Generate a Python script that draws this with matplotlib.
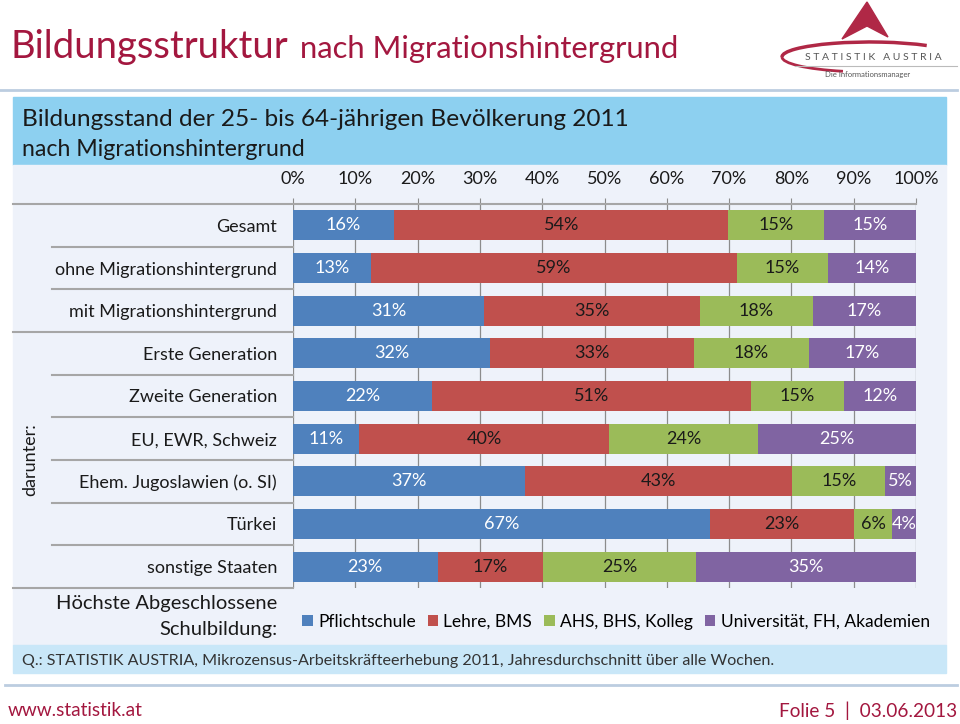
import numpy as np
import matplotlib
matplotlib.use('Agg')
import matplotlib.pyplot as plt
from matplotlib.patches import Rectangle, Polygon, Arc
from matplotlib.lines import Line2D
import matplotlib.transforms as mtransforms

plt.rcParams['font.family'] = ['Lato', 'DejaVu Sans']

# data
categories = ['Gesamt', 'ohne Migrationshintergrund', 'mit Migrationshintergrund',
              'Erste Generation', 'Zweite Generation', 'EU, EWR, Schweiz',
              'Ehem. Jugoslawien (o. SI)', 'Türkei', 'sonstige Staaten']
levels = ['Pflichtschule', 'Lehre, BMS', 'AHS, BHS, Kolleg', 'Universität, FH, Akademien']
pflichtschule = [16.2, 12.6, 30.6, 31.6, 22.3, 10.6, 37.3, 66.9, 23.2]
lehre_bms = [53.7, 58.6, 34.7, 32.8, 51.2, 40.2, 42.8, 23.1, 16.9]
ahs_bhs = [15.3, 14.6, 18.1, 18.4, 14.9, 23.8, 15.0, 6.2, 24.6]
uni_fh = [14.8, 14.2, 16.6, 17.2, 11.6, 25.4, 4.9, 3.8, 35.3]
ticks = np.arange(0, 101, 10)

colors = ['#4F81BD', '#C0504D', '#9BBB59', '#8064A2']
txt_colors = ['white', '#1a1a1a', '#1a1a1a', 'white']

W, H = 960, 724


def fx(x):
    return x / W


def fy(y):
    return 1 - y / H


fig = plt.figure(figsize=(9.6, 7.24), dpi=100)
fig.patch.set_facecolor('white')

# background boxes
fig.add_artist(Rectangle((fx(13), fy(165)), fx(946) - fx(13), fy(97) - fy(165),
                         transform=fig.transFigure, color='#8DD0F0', zorder=-5))
fig.add_artist(Rectangle((fx(13), fy(645)), fx(946) - fx(13), fy(165) - fy(645),
                         transform=fig.transFigure, color='#EEF2FA', zorder=-5))
fig.add_artist(Rectangle((fx(13), fy(673)), fx(946) - fx(13), fy(645) - fy(673),
                         transform=fig.transFigure, color='#C9E7F8', zorder=-5))
fig.add_artist(Line2D([fx(0), fx(957)], [fy(90), fy(90)], transform=fig.transFigure,
                      color='#BCCDE0', lw=2))
fig.add_artist(Line2D([fx(5), fx(957)], [fy(685), fy(685)], transform=fig.transFigure,
                      color='#BCCDE0', lw=2))

# page title
red = '#A3173F'
fig.text(fx(11), fy(58), 'Bildungsstruktur', fontsize=27.5, color=red, va='baseline')
fig.text(fx(300), fy(58), 'nach Migrationshintergrund', fontsize=22.3, color=red, va='baseline')

# logo
fig.add_artist(Polygon([(fx(867), fy(2)), (fx(842), fy(39)), (fx(867), fy(26)), (fx(888), fy(37))],
                       closed=True, transform=fig.transFigure, color='#B02846'))
fig.add_artist(Arc((fx(870), fy(57)), fx(176), (fy(0) - fy(30)), theta1=15, theta2=180,
                   transform=fig.transFigure, color='#B02846', lw=2.5))
fig.add_artist(Arc((fx(870), fy(57)), fx(176), (fy(0) - fy(30)), theta1=180, theta2=215,
                   transform=fig.transFigure, color='#B02846', lw=2))
fig.text(fx(873), fy(57), 'S T A T I S T I K   A U S T R I A', fontsize=7.5, color='#555555',
         ha='center', va='center')
fig.add_artist(Line2D([fx(795), fx(957)], [fy(66), fy(66)], transform=fig.transFigure,
                      color='#BBBBBB', lw=0.8))
fig.text(fx(868), fy(75), 'Die Informationsmanager', fontsize=5.5, color='#555555',
         ha='center', va='center')

# header text
fig.text(fx(22), fy(119), 'Bildungsstand der 25- bis 64-jährigen Bevölkerung 2011',
         fontsize=17.6, color='#1a1a1a', va='center')
fig.text(fx(22), fy(150), 'nach Migrationshintergrund', fontsize=16.7, color='#1a1a1a',
         va='center')
fig.text(fx(22), fy(661), 'Q.: STATISTIK AUSTRIA, Mikrozensus-Arbeitskräfteerhebung 2011, '
         'Jahresdurchschnitt über alle Wochen.', fontsize=11.6, color='#333333',
         va='center')

# footer
fig.text(fx(8), fy(711), 'www.statistik.at', fontsize=13.7, color=red, va='center')
fig.text(fx(957), fy(711), 'Folie 5  |  03.06.2013', fontsize=13.7, color=red, va='center', ha='right')

# chart
ax = fig.add_axes([fx(293), fy(588), fx(916) - fx(293), fy(204) - fy(588)])
ax.patch.set_visible(False)
y = np.arange(len(categories))
left = np.zeros(len(categories))
handles = []
for vals, c, tc, name in zip([pflichtschule, lehre_bms, ahs_bhs, uni_fh], colors, txt_colors, levels):
    vals = np.array(vals)
    b = ax.barh(y, vals, left=left, height=0.70, color=c, label=name, zorder=2)
    handles.append(b)
    for yi, l, v in zip(y, left, vals):
        ax.text(l + v / 2, yi, f'{v:.0f}%', ha='center', va='center', color=tc, fontsize=13, zorder=3)
    left = left + vals

ax.set_xlim(0, 100)
ax.set_ylim(len(categories) - 0.5, -0.5)
ax.set_xticks(ticks)
ax.set_xticklabels([f'{t}%' for t in ticks], fontsize=13, color='#1a1a1a')
ax.xaxis.tick_top()
ax.tick_params(axis='x', length=4, color='#8C8C8C', pad=8)
ax.set_yticks(y)
ax.set_yticklabels(categories, fontsize=13, color='#1a1a1a')
ax.tick_params(axis='y', length=0, pad=11.5)
ax.grid(axis='x', color='#8C8C8C', lw=0.9, zorder=0)
ax.set_axisbelow(True)
for s in ax.spines.values():
    s.set_visible(False)

# category separators
tr = mtransforms.blended_transform_factory(fig.transFigure, ax.transData)
for k in range(1, len(categories)):
    x0 = fx(13) if k == 3 else fx(52)
    ax.plot([x0, fx(293)], [k - 0.5, k - 0.5], transform=tr, color='#A6A6A6', lw=1.5, clip_on=False)
ax.plot([fx(13), fx(293)], [len(categories) - 0.5] * 2, transform=tr, color='#A6A6A6', lw=1.5, clip_on=False)
ax.plot([fx(13), fx(916)], [-0.5, -0.5], transform=tr, color='#A6A6A6', lw=1.5, clip_on=False)

fig.text(fx(30), fy(460), 'darunter:', rotation=90, ha='center', va='center', fontsize=13, color='#1a1a1a')

# legend
fig.text(fx(277), fy(603), 'Höchste Abgeschlossene', fontsize=14.5, ha='right', va='center', color='#1a1a1a')
fig.text(fx(277), fy(630), 'Schulbildung:', fontsize=14.5, ha='right', va='center', color='#1a1a1a')
fig.legend(handles, levels, loc='center', bbox_to_anchor=(fx(616), fy(622)), ncol=4, frameon=False,
           fontsize=12.5, handlelength=0.6, handleheight=0.6, handletextpad=0.3, columnspacing=0.7)

fig.savefig('out.png', dpi=100)
